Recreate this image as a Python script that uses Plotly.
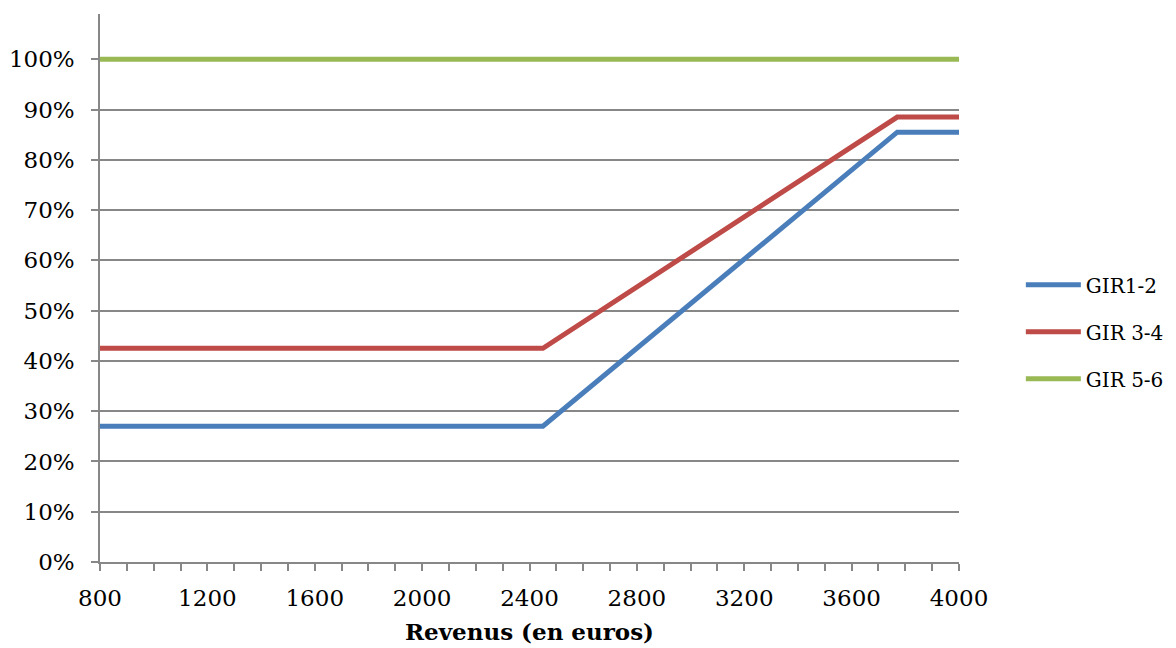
import plotly.graph_objects as go

# Revenue breakpoints (euros) and coverage rates per GIR group
revenus = [800, 2450, 3770, 4000]
gir_1_2 = [0.27, 0.27, 0.855, 0.855]
gir_3_4 = [0.425, 0.425, 0.885, 0.885]
gir_5_6 = [1.00, 1.00, 1.00, 1.00]

series_names = ["GIR1-2", "GIR 3-4", "GIR 5-6"]
series_colors = ["#4A7EBB", "#BE4B48", "#98B954"]

x_ticks = list(range(800, 4001, 100))
x_labels = [str(v) if v % 400 == 0 else "" for v in x_ticks]
y_ticks = [i / 10 for i in range(11)]
y_labels = [f"{i * 10}%" for i in range(11)]

font_family = "DejaVu Serif"
axis_gray = "#878787"

fig = go.Figure()
for i, (name, values, color) in enumerate(zip(series_names, [gir_1_2, gir_3_4, gir_5_6], series_colors)):
    fig.add_trace(go.Scatter(
        x=revenus, y=values, mode="lines", name=name,
        legendgroup=f"g{i}",
        line=dict(color=color, width=5),
    ))

fig.update_layout(
    width=1176, height=648,
    margin=dict(l=100, r=217, t=14, b=86, autoexpand=False),
    paper_bgcolor="white", plot_bgcolor="white",
    font=dict(family=font_family, size=23, color="black"),
    showlegend=True,
    legend=dict(
        x=1.072, xanchor="left", y=0.42, yanchor="middle",
        tracegroupgap=18, itemwidth=55,
        font=dict(family=font_family, size=20, color="black"),
        bgcolor="rgba(0,0,0,0)",
    ),
    xaxis=dict(
        range=[800, 4000], tickmode="array", tickvals=x_ticks, ticktext=x_labels,
        ticks="outside", ticklen=7, tickcolor=axis_gray, tickwidth=1.5,
        ticklabelstandoff=8,
        showline=True, linecolor=axis_gray, linewidth=1.5,
        showgrid=False, zeroline=False,
        title=dict(text="<b>Revenus (en euros)</b>", standoff=14,
                   font=dict(family=font_family, size=23)),
    ),
    yaxis=dict(
        range=[0, 1.09], tickmode="array", tickvals=y_ticks, ticktext=y_labels,
        ticks="outside", ticklen=7, tickcolor=axis_gray, tickwidth=1.5,
        ticklabelstandoff=12,
        showline=True, linecolor=axis_gray, linewidth=1.5,
        showgrid=True, gridcolor=axis_gray, gridwidth=1.5,
        zeroline=False,
    ),
)

fig.write_html("out.html")
